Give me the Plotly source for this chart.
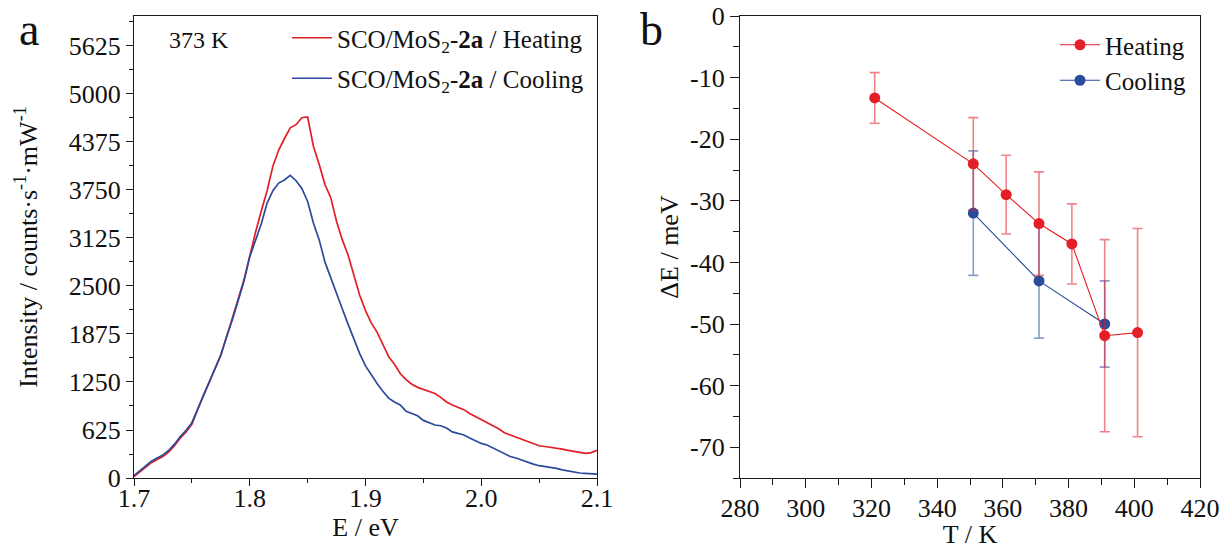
import plotly.graph_objects as go

# ---------------- data ----------------
energy_eV = [1.700, 1.705, 1.710, 1.715, 1.720, 1.725, 1.730, 1.735, 1.740, 1.745,
             1.750, 1.755, 1.760, 1.765, 1.770, 1.775, 1.780, 1.785, 1.790, 1.795,
             1.800, 1.805, 1.810, 1.815, 1.820, 1.825, 1.830, 1.835, 1.840, 1.845,
             1.850, 1.855, 1.860, 1.865, 1.870, 1.875, 1.880, 1.885, 1.890, 1.895,
             1.900, 1.905, 1.910, 1.915, 1.920, 1.925, 1.930, 1.935, 1.940, 1.945,
             1.950, 1.955, 1.960, 1.965, 1.970, 1.975, 1.980, 1.985, 1.990, 1.995,
             2.000, 2.005, 2.010, 2.015, 2.020, 2.025, 2.030, 2.035, 2.040, 2.045,
             2.050, 2.055, 2.060, 2.065, 2.070, 2.075, 2.080, 2.085, 2.090, 2.095,
             2.100]

intensity_heating = [20, 80, 150, 200, 240, 280, 340, 420, 520, 600,
                     700, 900, 1080, 1250, 1420, 1600, 1840, 2070, 2330, 2580,
                     2900, 3200, 3480, 3740, 4060, 4270, 4420, 4560, 4600, 4690,
                     4700, 4320, 4080, 3820, 3650, 3340, 3100, 2900, 2640, 2380,
                     2180, 2020, 1900, 1730, 1580, 1480, 1360, 1280, 1220, 1180,
                     1150, 1130, 1100, 1050, 990, 950, 920, 890, 840, 800,
                     770, 730, 680, 640, 590, 560, 540, 500, 470, 440,
                     420, 410, 400, 385, 375, 360, 345, 340, 320, 330,
                     360]

intensity_cooling = [30, 90, 160, 220, 260, 300, 360, 440, 540, 620,
                     720, 900, 1080, 1260, 1420, 1600, 1840, 2060, 2310, 2560,
                     2880, 3100, 3310, 3580, 3740, 3840, 3880, 3940, 3870, 3770,
                     3600, 3320, 3100, 2810, 2600, 2400, 2200, 2000, 1800, 1620,
                     1460, 1340, 1230, 1130, 1040, 990, 950, 870, 840, 810,
                     750, 720, 690, 680, 650, 600, 580, 560, 520, 480,
                     450, 430, 390, 360, 310, 280, 260, 230, 210, 180,
                     160, 150, 135, 125, 105, 90, 75, 65, 60, 55,
                     50]

T_heating = [321, 351, 361, 371, 381, 391, 401]
dE_heating = [-13.3, -24.0, -29.0, -33.7, -37.0, -51.9, -51.4]
err_heating = [4.1, 7.5, 6.4, 8.4, 6.5, 15.6, 16.9]

T_cooling = [351, 371, 391]
dE_cooling = [-32.0, -43.0, -50.0]
err_cooling = [10.1, 9.3, 7.0]

left_y_ticks = [0, 625, 1250, 1875, 2500, 3125, 3750, 4375, 5000, 5625]
right_y_ticks = [0, -10, -20, -30, -40, -50, -60, -70]
right_y_ticktext = ["0", "-10", "-20", "-30", "-40", "-50", "-60", "-70"]

# ---------------- style ----------------
RED = "#E41E26"
BLUE = "#2A4B9B"
FONT = "Liberation Serif, Times New Roman, serif"
AX = "#1a1a1a"

W, H = 1232, 549
def px_x(p):
    return p / W
def px_y(p):
    return 1 - p / H

fig = go.Figure()

fig.add_trace(go.Scatter(
    x=energy_eV, y=intensity_heating, mode="lines",
    line=dict(color=RED, width=1.7),
    name="SCO/MoS<sub>2</sub>-<b>2a</b> / Heating",
    legend="legend", legendgroup="h", xaxis="x", yaxis="y"))
fig.add_trace(go.Scatter(
    x=energy_eV, y=intensity_cooling, mode="lines",
    line=dict(color=BLUE, width=1.7),
    name="SCO/MoS<sub>2</sub>-<b>2a</b> / Cooling",
    legend="legend", legendgroup="c", xaxis="x", yaxis="y"))

fig.add_trace(go.Scatter(
    x=T_cooling, y=dE_cooling, mode="lines+markers",
    line=dict(color=BLUE, width=1.1),
    marker=dict(color=BLUE, size=11),
    error_y=dict(type="data", array=err_cooling, color="rgba(42,75,155,0.55)",
                 thickness=1.6, width=5),
    name="Cooling", legend="legend2", legendgroup="c2", legendrank=2,
    xaxis="x2", yaxis="y2"))
fig.add_trace(go.Scatter(
    x=T_heating, y=dE_heating, mode="lines+markers",
    line=dict(color=RED, width=1.1),
    marker=dict(color=RED, size=11),
    error_y=dict(type="data", array=err_heating, color="rgba(228,30,38,0.55)",
                 thickness=1.6, width=5),
    name="Heating", legend="legend2", legendgroup="h2", legendrank=1,
    xaxis="x2", yaxis="y2"))

axis_common = dict(showgrid=False, zeroline=False, showline=True, mirror=True,
                   automargin=False,
                   linecolor=AX, linewidth=1.3, ticks="outside", tickcolor=AX,
                   tickwidth=1.3, tickfont=dict(family=FONT, size=26, color="#111"),
                   title_font=dict(family=FONT, size=26, color="#111"))

fig.update_layout(
    template="none",
    width=W, height=H,
    margin=dict(l=0, r=0, t=0, b=0, pad=0),
    paper_bgcolor="white", plot_bgcolor="white",
    font=dict(family=FONT, size=26, color="#111"),
    xaxis=dict(domain=[px_x(134), px_x(597)], range=[1.7, 2.1],
               tick0=1.7, dtick=0.1, tickformat=".1f", ticklen=7, ticklabelstandoff=-10,
               minor=dict(dtick=0.05, tick0=1.7, ticklen=4, ticks="outside", tickcolor=AX),
               title=dict(text="E / eV", standoff=4), anchor="y", **axis_common),
    yaxis=dict(domain=[px_y(478), px_y(16)], range=[0, 6015],
               tickvals=left_y_ticks, ticklen=7,
               minor=dict(dtick=312.5, tick0=0, ticklen=4, ticks="outside", tickcolor=AX),
               title=dict(text="Intensity / counts·s<sup>-1</sup>·mW<sup>-1</sup>", standoff=23),
               anchor="x", **axis_common),
    xaxis2=dict(domain=[px_x(740), px_x(1200)], range=[280, 420],
                tick0=280, dtick=20, ticklen=9, ticklabelstandoff=-2,
                minor=dict(dtick=10, tick0=280, ticklen=6, ticks="outside", tickcolor=AX),
                title=dict(text="T / K", standoff=12), anchor="y2", **axis_common),
    yaxis2=dict(domain=[px_y(478), px_y(16)], range=[-75, 0],
                tickvals=right_y_ticks, ticktext=right_y_ticktext, ticklen=9,
                minor=dict(dtick=5, tick0=0, ticklen=6, ticks="outside", tickcolor=AX),
                title=dict(text="ΔE / meV", standoff=3), anchor="x2", **axis_common),
    legend=dict(x=px_x(287), y=px_y(15), xanchor="left", yanchor="top",
                bgcolor="rgba(0,0,0,0)", font=dict(family=FONT, size=25, color="#111"),
                tracegroupgap=5, itemwidth=40),
    legend2=dict(x=px_x(1055), y=px_y(22), xanchor="left", yanchor="top",
                 bgcolor="rgba(0,0,0,0)", font=dict(family=FONT, size=25, color="#111"),
                 tracegroupgap=0, itemwidth=40),
    showlegend=True,
    annotations=[
        dict(text="a", x=px_x(29), y=px_y(29), xref="paper", yref="paper",
             xanchor="center", yanchor="middle",
             showarrow=False, font=dict(family=FONT, size=46, color="#111")),
        dict(text="b", x=px_x(651), y=px_y(30), xref="paper", yref="paper",
             xanchor="center", yanchor="middle",
             showarrow=False, font=dict(family=FONT, size=46, color="#111")),
        dict(text="373 K", x=px_x(199), y=px_y(40), xref="paper", yref="paper",
             xanchor="center", yanchor="middle",
             showarrow=False, font=dict(family=FONT, size=24, color="#111")),
    ],
)

fig.write_html("out.html")
